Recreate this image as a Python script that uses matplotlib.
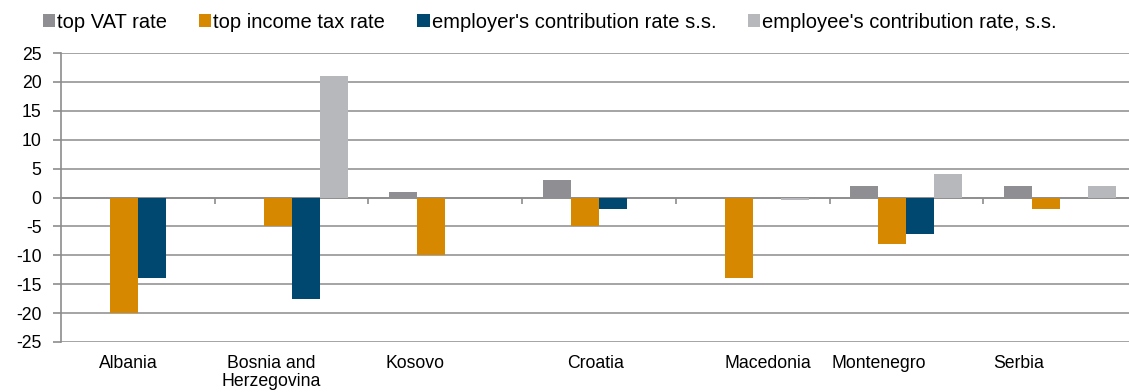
import matplotlib
matplotlib.use("Agg")
import matplotlib.pyplot as plt
import matplotlib.transforms as mtransforms
import numpy as np

# ---- data ----
countries = ["Albania", "Bosnia and\nHerzegovina", "Kosovo", "Croatia",
             "Macedonia", "Montenegro", "Serbia"]
series_names = ["top VAT rate", "top income tax rate",
                "employer's contribution rate s.s.",
                "employee's contribution rate, s.s."]
vat_rate = [0, 0, 1, 3, 0, 2, 2]
income_tax_rate = [-20, -5, -10, -5, -14, -8, -2]
employer_contrib = [-14, -17.5, 0, -2, 0, -6.3, 0]
employee_contrib = [0, 21, 0, 0, -0.5, 4, 2]
yticks = [-25, -20, -15, -10, -5, 0, 5, 10, 15, 20, 25]

# ---- style / layout ----
colors = ["#8e8e93", "#d68800", "#004870", "#b7b8bb"]
label_offsets = [-0.06, -0.13, -0.195, -0.02, 0.10, -0.18, -0.27]
grid_col = "#8c8c8c"

plt.rcParams["font.family"] = ["Liberation Sans", "DejaVu Sans"]

fig = plt.figure(figsize=(11.29, 3.92), dpi=100)
ax = fig.add_axes([61 / 1129, 1 - 342 / 392, (1137 - 61) / 1129, (342 - 53) / 392])

series = [vat_rate, income_tax_rate, employer_contrib, employee_contrib]
x = np.arange(len(countries))
w = 0.182
for k, (vals, name, c) in enumerate(zip(series, series_names, colors)):
    ax.bar(x + (k - 1.5) * w, vals, width=w, color=c, label=name, zorder=3,
           linewidth=0)

ax.set_xlim(-0.5, len(countries) - 0.5)
ax.set_ylim(-25, 25)
ax.set_yticks(yticks)
ax.set_yticklabels([str(v) for v in yticks], fontsize=12.7)
ax.tick_params(axis="y", length=6, width=1.2, color=grid_col, pad=8)

# horizontal gridlines
ax.yaxis.grid(True, color=grid_col, linewidth=1.1, zorder=1)
ax.set_axisbelow(True)

for s in ["top", "right"]:
    ax.spines[s].set_visible(False)
ax.spines["left"].set_color(grid_col)
ax.spines["left"].set_linewidth(1.2)
ax.spines["bottom"].set_position(("data", 0))
ax.spines["bottom"].set_color(grid_col)
ax.spines["bottom"].set_linewidth(1.2)

# boundary tick marks on the zero line
ax.set_xticks(np.arange(0.5, len(countries) - 0.5, 1.0))
ax.set_xticklabels([])
ax.tick_params(axis="x", length=4, width=1.2, color=grid_col, direction="out")

# category labels below the plot
trans = mtransforms.blended_transform_factory(ax.transData, ax.transAxes)
for i, (name, off) in enumerate(zip(countries, label_offsets)):
    ax.text(i + off, -0.045, name, transform=trans, ha="center", va="top",
            fontsize=12.7, linespacing=1.1)

fig.legend(loc="center", bbox_to_anchor=(550 / 1129, 1 - 22 / 392), ncol=4,
           frameon=False, fontsize=14.5, handlelength=0.6, handleheight=0.6,
           handletextpad=0.1, columnspacing=1.6, borderpad=0)

fig.savefig("out.png", dpi=100)
